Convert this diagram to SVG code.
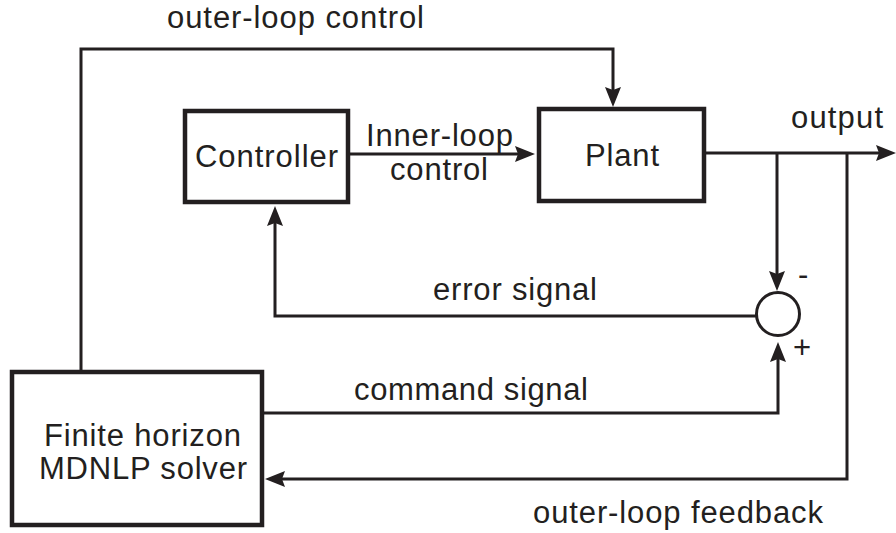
<svg xmlns="http://www.w3.org/2000/svg" width="896" height="533" viewBox="0 0 896 533">
  <style>
    .box { fill: #ffffff; stroke: #231f20; stroke-width: 4.5; }
    .wire { fill: none; stroke: #231f20; stroke-width: 3; }
    .lbl { font-family: "Liberation Sans", Arial, sans-serif; font-size: 31px; fill: #231f20; }
  </style>
  <defs>
    <marker id="arrow" markerUnits="userSpaceOnUse" viewBox="0 0 20 16" refX="14" refY="8" markerWidth="20" markerHeight="16" orient="auto">
      <path d="M0,0 L20,8 L0,16 L3,8 Z" fill="#231f20"/>
    </marker>
  </defs>

  <rect width="896" height="533" fill="#ffffff"/>

  <!-- connectors -->
  <g id="connectors">
    <path class="wire" d="M81,370 V49 H613 V101" marker-end="url(#arrow)"/>
    <path class="wire" d="M350,154 H529" marker-end="url(#arrow)"/>
    <path class="wire" d="M706,153 H890" marker-end="url(#arrow)"/>
    <path class="wire" d="M777,153 V285" marker-end="url(#arrow)"/>
    <path class="wire" d="M847,153 V479 H271" marker-end="url(#arrow)"/>
    <path class="wire" d="M756,316 H275 V212" marker-end="url(#arrow)"/>
    <path class="wire" d="M264,413 H778 V348" marker-end="url(#arrow)"/>
  </g>

  <!-- connector labels -->
  <g id="labels">
    <text class="lbl" x="167" y="28" textLength="257">outer-loop control</text>
    <text class="lbl" x="366" y="146" textLength="147">Inner-loop</text>
    <text class="lbl" x="390" y="180" textLength="98">control</text>
    <text class="lbl" x="791" y="128" textLength="92">output</text>
    <text class="lbl" x="433" y="300" textLength="164">error signal</text>
    <text class="lbl" x="354" y="400" textLength="234">command signal</text>
    <text class="lbl" x="533" y="523" textLength="290">outer-loop feedback</text>
    <text class="lbl" x="798" y="285" font-size="26">-</text>
    <text class="lbl" x="793" y="358" font-size="26">+</text>
  </g>

  <g id="controller">
    <rect class="box" x="185" y="111" width="163" height="91"/>
    <text class="lbl" x="195" y="167" textLength="143">Controller</text>
  </g>

  <g id="plant">
    <rect class="box" x="539" y="109" width="165" height="92"/>
    <text class="lbl" x="585" y="166" textLength="74">Plant</text>
  </g>

  <g id="summing-junction">
    <circle cx="778" cy="314" r="21.5" fill="#ffffff" stroke="#231f20" stroke-width="3"/>
  </g>

  <g id="solver">
    <rect class="box" x="12" y="372" width="250" height="153"/>
    <text class="lbl" x="44" y="446" textLength="197">Finite horizon</text>
    <text class="lbl" x="39" y="479" textLength="208">MDNLP solver</text>
  </g>
</svg>
